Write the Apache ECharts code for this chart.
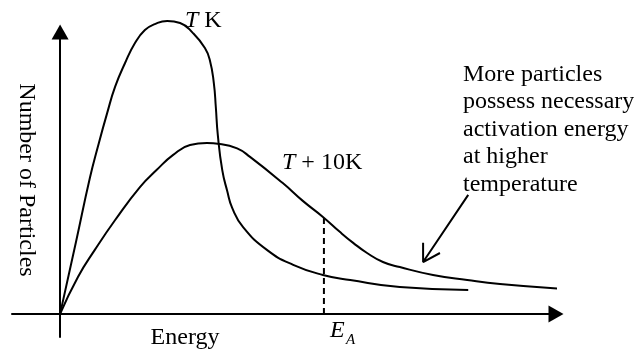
<!DOCTYPE html>
<html>
<head>
<meta charset="utf-8">
<script src="https://cdn.jsdelivr.net/npm/echarts@6/dist/echarts.min.js"></script>
<style>
  html, body { margin: 0; padding: 0; background: #fff; }
  #main { width: 634px; height: 353px; }
</style>
</head>
<body>
<div id="main"></div>
<script>
// energy (x) vs number of particles (y), arbitrary units
var curveTK = [[0, 0], [3.2, 25.5], [6.0, 48.2], [7.6, 59.2], [9.5, 71.3], [11.1, 80.6],
  [13.1, 89.0], [15.1, 96.1], [17.1, 100.7], [19.1, 102.8], [21.6, 103.9], [24.2, 103.2],
  [26.8, 99.6], [29.2, 94.3], [30.2, 90.0], [31.0, 81.9], [31.4, 73.4], [31.8, 63.5],
  [32.7, 51.0], [33.7, 43.6], [34.7, 37.6], [36.9, 30.8], [41.7, 22.7], [47.0, 17.4],
  [53.0, 13.8], [58.5, 12.0], [68.5, 9.5], [82.3, 8.5]];
var curveT10K = [[0, 0], [3.6, 13.1], [7.0, 22.7], [11.1, 33.3], [16.1, 45.0], [19.5, 51.1],
  [22.8, 56.4], [26.2, 59.9], [29.6, 60.6], [32.2, 60.3], [35.7, 58.7], [38.3, 55.7],
  [44.9, 46.4], [49.0, 40.0], [53.0, 34.4], [56.4, 29.1], [59.1, 25.2], [61.9, 21.6],
  [65.1, 18.4], [68.5, 16.6], [75.2, 13.8], [82.1, 12.0], [88.7, 10.6], [101.8, 8.8]];
// activation energy marker
var eaLine = [[53.2, 0], [53.2, 34.1]];
// pointer arrow: arm, tip, arm, break, tail, tip
var pointerArrow = [[73.2, 25.2], [73.2, 18.4], [76.6, 21.6], null, [82.3, 42.2], [73.2, 18.4]];

var serif = "'Liberation Serif', 'Times New Roman', serif";
var myChart = echarts.init(document.getElementById("main"));

function curve(data) {
  return {
    type: "line",
    data: data,
    smooth: 0.5,
    symbol: "none",
    clip: false,
    lineStyle: { color: "#000", width: 2 }
  };
}

var option = {
  animation: false,
  grid: { left: 12, right: 78, top: 32, bottom: 16, containLabel: false },
  xAxis: {
    type: "value",
    min: -9.7,
    max: 100,
    axisLine: {
      onZero: true,
      symbol: ["none", "triangle"],
      symbolSize: [17, 15],
      lineStyle: { color: "#000", width: 2 }
    },
    axisTick: { show: false },
    axisLabel: { show: false },
    splitLine: { show: false }
  },
  yAxis: {
    type: "value",
    min: -8.2,
    max: 100,
    axisLine: {
      onZero: true,
      symbol: ["none", "triangle"],
      symbolSize: [17, 15],
      lineStyle: { color: "#000", width: 2 }
    },
    axisTick: { show: false },
    axisLabel: { show: false },
    splitLine: { show: false }
  },
  series: [
    curve(curveTK),
    curve(curveT10K),
    {
      type: "line",
      data: eaLine,
      symbol: "none",
      lineStyle: { color: "#000", width: 2, type: [6, 4] }
    },
    {
      type: "line",
      data: pointerArrow,
      symbol: "none",
      clip: false,
      connectNulls: false,
      lineStyle: { color: "#000", width: 2 }
    }
  ],
  graphic: [
    {
      type: "text", x: 185, y: 21,
      style: { text: "{i|T} K", font: "24px " + serif, fill: "#000", verticalAlign: "middle",
        rich: { i: { fontStyle: "italic", fontSize: 24, fontFamily: serif } } }
    },
    {
      type: "text", x: 282, y: 162.5,
      style: { text: "{i|T} + 10K", font: "24px " + serif, fill: "#000", verticalAlign: "middle",
        rich: { i: { fontStyle: "italic", fontSize: 24, fontFamily: serif } } }
    },
    {
      type: "text", x: 463, y: 60.5,
      style: {
        text: "More particles\npossess necessary\nactivation energy\nat higher\ntemperature",
        font: "24px " + serif, fill: "#000", lineHeight: 27.5, verticalAlign: "top"
      }
    },
    {
      type: "text", x: 26, y: 180, rotation: -Math.PI / 2,
      style: { text: "Number of Particles", font: "24px " + serif, fill: "#000",
        align: "center", verticalAlign: "middle" }
    },
    {
      type: "text", x: 185, y: 338,
      style: { text: "Energy", font: "24px " + serif, fill: "#000",
        align: "center", verticalAlign: "middle" }
    },
    {
      type: "text", x: 330, y: 331,
      style: { text: "E", font: "italic 24px " + serif, fill: "#000", verticalAlign: "middle" }
    },
    {
      type: "text", x: 346, y: 340,
      style: { text: "A", font: "italic 15px " + serif, fill: "#000", verticalAlign: "middle" }
    }
  ]
};

myChart.setOption(option);
</script>
</body>
</html>
